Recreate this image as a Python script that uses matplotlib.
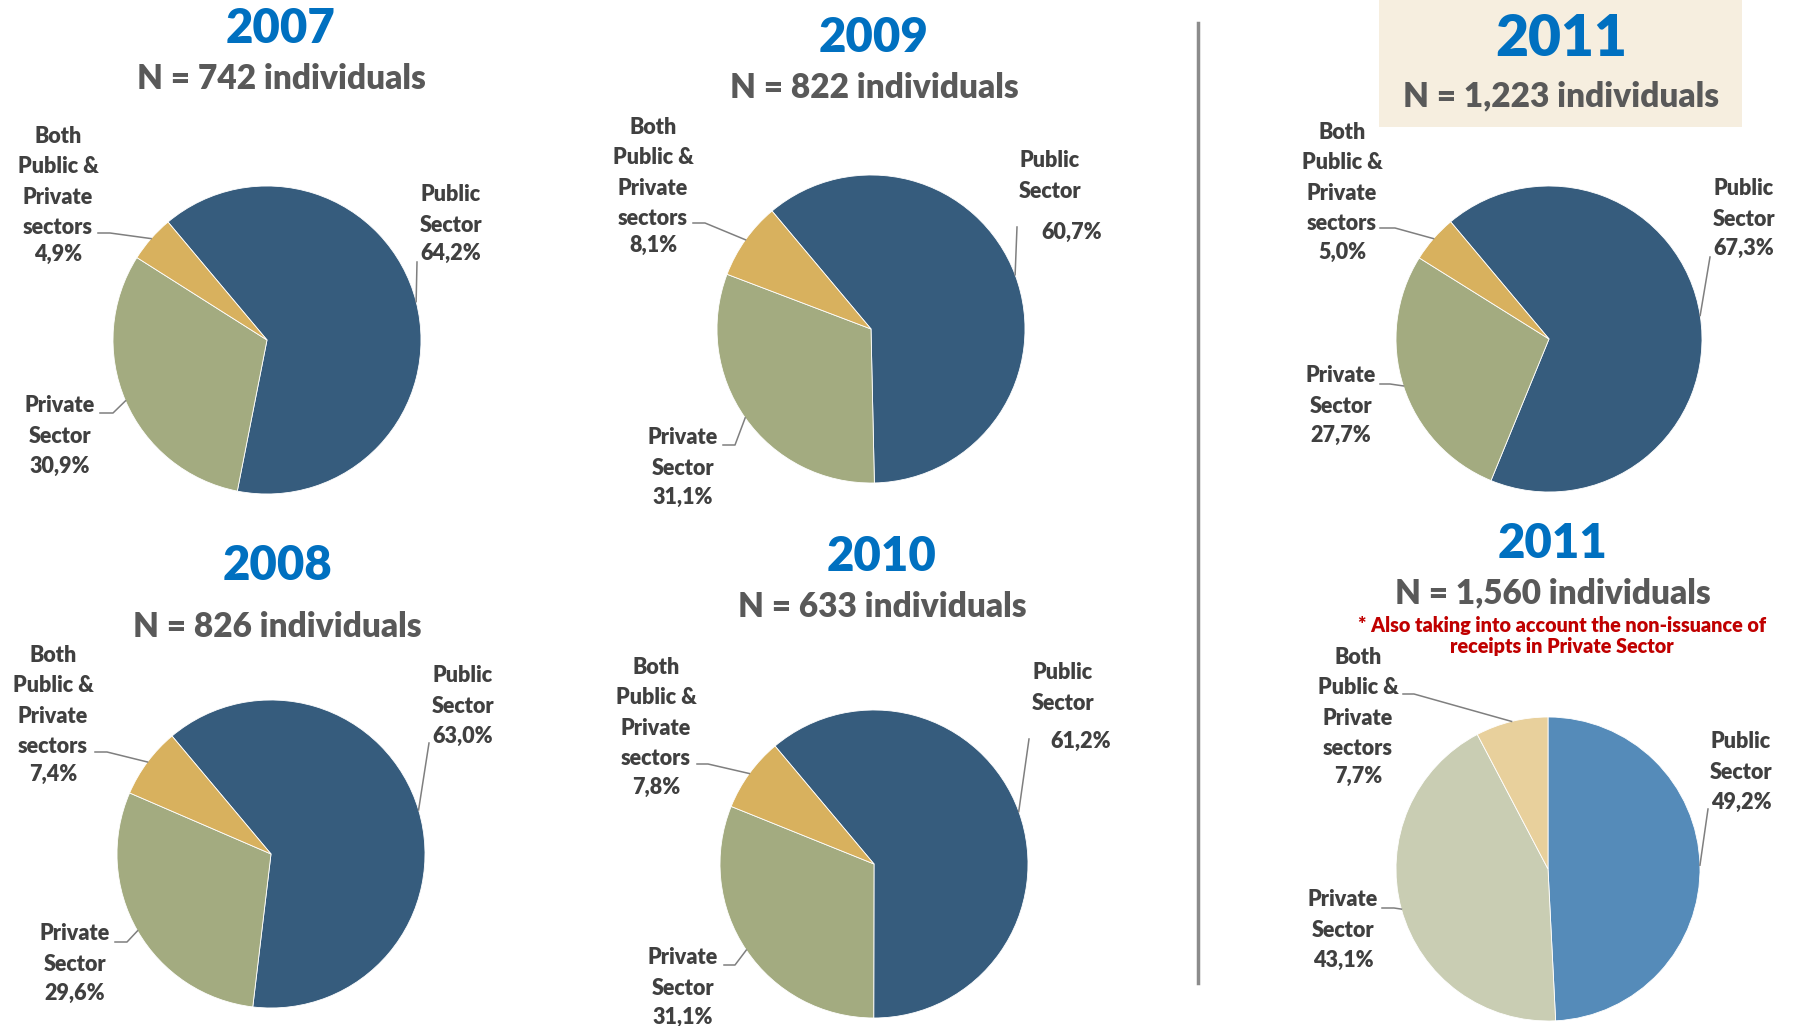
import numpy as np
import matplotlib
matplotlib.use("Agg")
from matplotlib import pyplot as plt
from matplotlib.patches import Rectangle

plt.rcParams['font.family'] = ['Lato', 'DejaVu Sans']
plt.rcParams['font.weight'] = 'heavy'

W, H = 1798, 1026

# data
years = ["2007", "2009", "2011", "2008", "2010", "2011"]
n_text = ["742", "822", "1,223", "826", "633", "1,560"]
public = [64.2, 60.7, 67.3, 63.0, 61.2, 49.2]
private = [30.9, 31.1, 27.7, 29.6, 31.1, 43.1]
both = [4.9, 8.1, 5.0, 7.4, 7.8, 7.7]
names = ["Public\nSector", "Private\nSector", "Both\nPublic &\nPrivate\nsectors"]

dark_cols = ["#365C7D", "#A3AB80", "#D8B15E"]
light_cols = ["#558BB9", "#C9CDB3", "#E8D09C"]

# layout (pixels from top-left)
centers = [(267, 340), (871, 329), (1549, 339), (271, 854), (874, 864), (1548, 869)]
radii = [154, 154, 153, 154, 154, 152]
starts = [130, 130, 130, 130, 130, 90]
title_y = [(29, 79), (38, 88), (39, 96), (566, 627), (557, 607), (544, 593)]
title_x = [281, 874, 1561, 277, 882, 1553]

# label positions: (name xy, pct xy) for public, private, both
label_pos = [
    [((451, 210), (451, 253)), ((60, 421), (60, 466)), ((58, 182), (58, 254))],
    [((1050, 176), (1072, 232)), ((683, 453), (683, 497)), ((653, 173), (653, 245))],
    [((1744, 204), (1744, 248)), ((1341, 391), (1341, 435)), ((1342, 178), (1342, 252))],
    [((463, 691), (463, 736)), ((75, 949), (75, 993)), ((53, 701), (53, 774))],
    [((1063, 688), (1081, 741)), ((683, 973), (683, 1017)), ((656, 713), (656, 787))],
    [((1741, 757), (1741, 802)), ((1343, 915), (1343, 960)), ((1358, 703), (1358, 776))],
]
# leader line start points (label side), the slice end is added from the wedge
leaders = [
    [[(417, 262)], [(100, 413), (113, 413)], [(98, 233), (110, 233)]],
    [[(1017, 227)], [(723, 445), (735, 445)], [(693, 223), (705, 223)]],
    [[(1710, 257)], [(1380, 384), (1390, 384)], [(1380, 228), (1395, 228)]],
    [[(429, 743)], [(115, 942), (127, 942)], [(95, 752), (107, 752)]],
    [[(1029, 739)], [(724, 965), (735, 965)], [(697, 764), (708, 764)]],
    [[(1708, 809)], [(1382, 908), (1394, 908)], [(1403, 694), (1414, 694)]],
]

fig = plt.figure(figsize=(W / 100, H / 100), dpi=100)
ax = fig.add_axes([0, 0, 1, 1])

# beige box behind top 2011 title
ax.add_patch(Rectangle((1379, H - 127), 363, 127, facecolor="#F6EEDF", edgecolor="none", zorder=0))

label_col = "#404040"
for i in range(6):
    vals = [public[i], private[i], both[i]]
    cols = light_cols if i == 5 else dark_cols
    cx, cy = centers[i]
    wedges, _ = ax.pie(vals, colors=cols, startangle=starts[i], counterclock=False,
                       radius=radii[i], center=(cx, H - cy),
                       wedgeprops=dict(edgecolor="white", linewidth=0.6))
    for k, w in enumerate(wedges):
        mid = np.deg2rad((w.theta1 + w.theta2) / 2)
        rx = cx + radii[i] * np.cos(mid)
        ry = (H - cy) + radii[i] * np.sin(mid)
        pts = leaders[i][k]
        xs = [p[0] for p in pts] + [rx]
        ys = [H - p[1] for p in pts] + [ry]
        ax.plot(xs, ys, color="#7F7F7F", lw=1.1, zorder=3)
        (nx, ny), (px, py) = label_pos[i][k]
        ax.text(nx, H - ny, names[k], ha="center", va="center", fontsize=15.5,
                color=label_col, linespacing=1.53)
        pct = f"{vals[k]:.1f}".replace(".", ",") + "%"
        ax.text(px, H - py, pct, ha="center", va="center", fontsize=15.5, color=label_col)

    ty, ny = title_y[i]
    ax.text(title_x[i], H - ty, years[i], ha="center", va="center",
            fontsize=41 if i == 2 else 34, color="#0070C0")
    ax.text(title_x[i], H - ny, f"N = {n_text[i]} individuals", ha="center", va="center",
            fontsize=24, color="#595959")

ax.text(1562, H - 636, "* Also taking into account the non-issuance of\nreceipts in Private Sector",
        ha="center", va="center", fontsize=14.2, color="#C00000", linespacing=1.1)

# divider
ax.plot([1198, 1198], [H - 23, H - 983], color="#8C8C8C", lw=2.5)

ax.set_xlim(0, W)
ax.set_ylim(0, H)
ax.set_aspect("equal")
ax.axis("off")

fig.savefig("out.png", dpi=100, facecolor="white")
